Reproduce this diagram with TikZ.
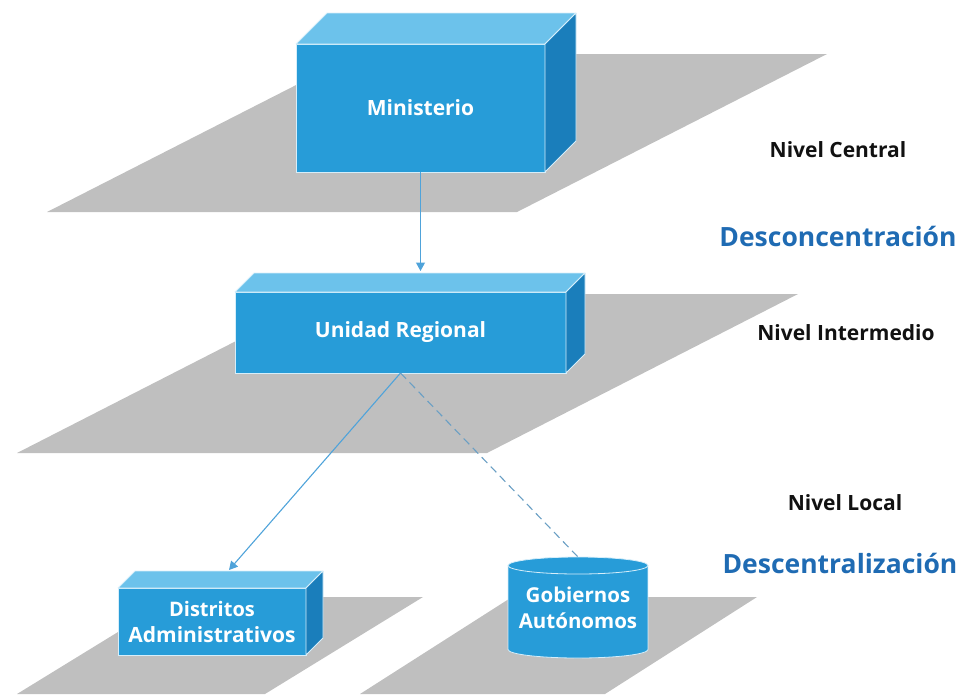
\documentclass[tikz,border=0pt]{standalone}
\usepackage{fontspec}
\setmainfont{Open Sans}
\usetikzlibrary{arrows.meta,calc}

\definecolor{planegray}{HTML}{BFBFBF}
\definecolor{boxfront}{HTML}{279CD8}
\definecolor{boxtop}{HTML}{6CC2EB}
\definecolor{boxside}{HTML}{1A7EBB}
\definecolor{boxedge}{HTML}{D6EEFA}
\definecolor{linkblue}{HTML}{4FA3DA}
\definecolor{dashblue}{HTML}{6A9FC4}
\definecolor{titleblue}{HTML}{1F6BB3}
\definecolor{labelink}{HTML}{111111}

% cuboid: name, centre of front face, width, height, depth, label
\newcommand\drawcuboid[6]{%
  \node[frontface, minimum width=#3, minimum height=#4] (#1) at #2 {#6};
  \filldraw[topface] (#1.north west) -- ++(#5,-#5) -- ++(#3,0) -- (#1.north east) -- cycle;
  \filldraw[sideface] (#1.north east) -- ++(#5,-#5) -- ++(0,#4) -- (#1.south east) -- cycle;
}

\tikzset{
  plane/.style={fill=planegray},
  frontface/.style={rectangle, fill=boxfront, draw=boxedge, line width=0.8pt,
    inner sep=0pt, outer sep=0pt, text=white, align=center,
    font=\bfseries\fontsize{21}{26}\selectfont},
  topface/.style={fill=boxtop, draw=boxedge, line width=0.8pt, line join=round},
  sideface/.style={fill=boxside, draw=boxedge, line width=0.8pt, line join=round},
  cylbody/.style={rectangle, fill=boxfront, inner sep=0pt, outer sep=0pt,
    text=white, align=center, font=\bfseries\fontsize{20.5}{26}\selectfont},
  link/.style={draw=linkblue, line width=1.1pt,
    -{Triangle[length=8.5pt,width=9pt]}},
  linkdash/.style={draw=dashblue, line width=1.1pt, dash pattern=on 8pt off 5pt},
  levellabel/.style={text=labelink, font=\bfseries\fontsize{21}{26}\selectfont},
  processlabel/.style={text=titleblue, font=\bfseries\fontsize{26.5}{32}\selectfont},
}

\begin{document}
\begin{tikzpicture}[x=1pt,y=-1pt]
\useasboundingbox (0,0) rectangle (963,694);

% ground planes of each level
\fill[plane] (47,212) -- (357,54) -- (827,54) -- (517,212) -- cycle;
\fill[plane] (17,453) -- (328,294) -- (798,294) -- (487,453) -- cycle;
\fill[plane] (17,694) -- (175,597) -- (423,597) -- (265,694) -- cycle;
\fill[plane] (360,694) -- (512,597) -- (757,597) -- (605,694) -- cycle;

% units
\drawcuboid{min}{(420.5,108)}{249}{128}{31}{Ministerio}
\drawcuboid{ur}{(400.5,332.5)}{331}{81}{19}{Unidad Regional}
\drawcuboid{da}{(212,621.5)}{188}{67}{17}{\fontsize{20}{27}\selectfont Distritos\\Administrativos}

% cylinder for the autonomous governments
\node[cylbody, minimum width=140, minimum height=84] (ga) at (578,607.5) {Gobiernos\\Autónomos};
\fill[boxfront] (ga.south west) arc[start angle=180, end angle=360, x radius=70pt, y radius=8.5pt] -- cycle;
\draw[boxedge, line width=0.8pt] (ga.north west) -- (ga.south west)
  arc[start angle=180, end angle=360, x radius=70pt, y radius=8.5pt] -- (ga.north east);
\filldraw[fill=boxfront, draw=boxedge, line width=0.8pt] (ga.north) ellipse[x radius=70pt, y radius=8.5pt];

% connection points on the top faces
\coordinate (ur-back) at ($(ur.north)+(0,-21)$);
\coordinate (da-back) at ($(da.north)+(17,-18)$);
\coordinate (ga-top) at ($(ga.north)+(0,-8.5)$);

% links
\draw[link] (min.south) -- (min.south |- ur-back);
\draw[link] (ur.south) -- (da-back);
\draw[linkdash] (ur.south) -- (ga-top);

% level names and processes
\node[levellabel] (lvc) at (838,150) {Nivel Central};
\node[processlabel] (desconc) at (838,236) {Desconcentración};
\node[levellabel] (lvi) at (846,333) {Nivel Intermedio};
\node[levellabel] (lvl) at (845,503) {Nivel Local};
\node[processlabel] (descent) at (840,563) {Descentralización};
\end{tikzpicture}
\end{document}
